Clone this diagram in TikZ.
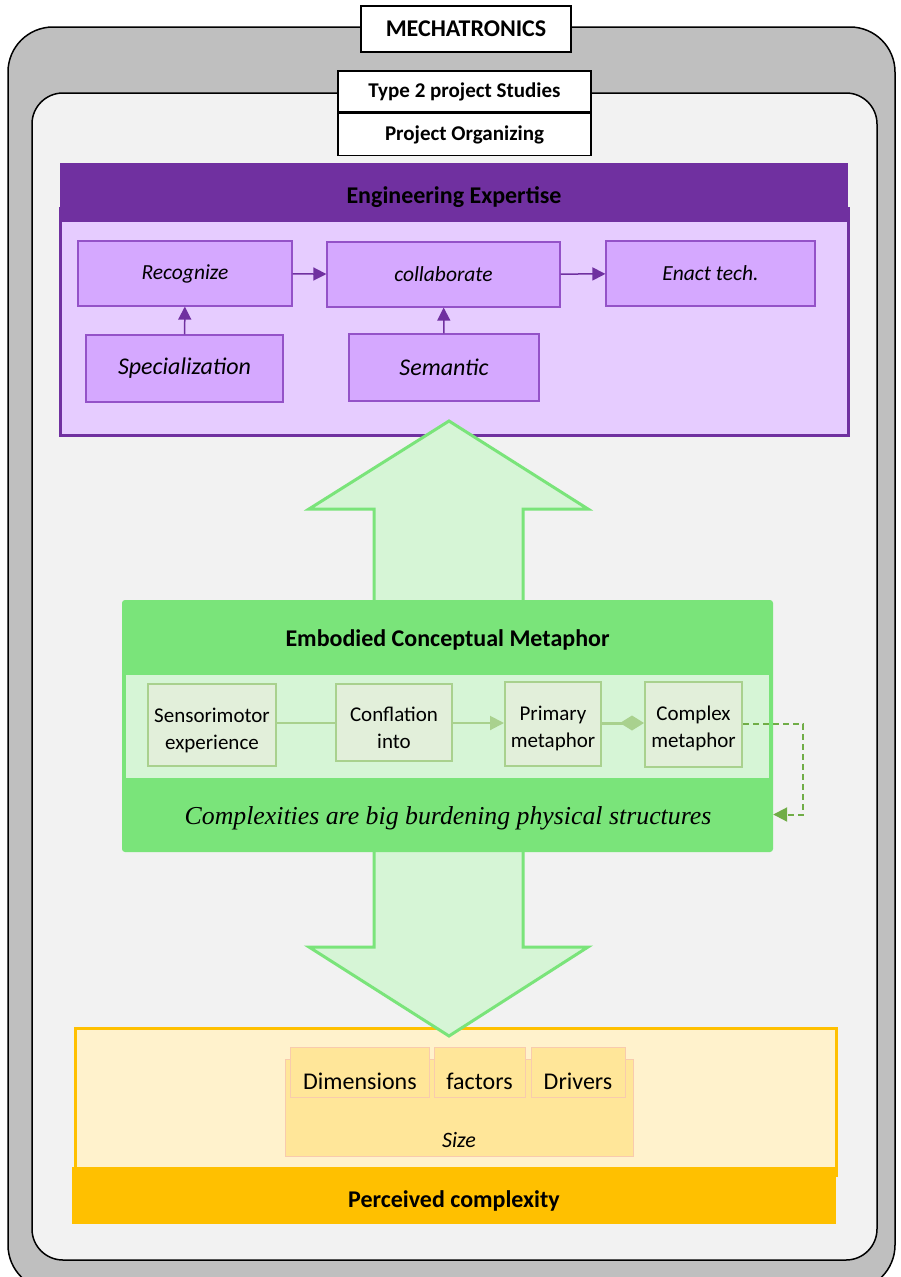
\documentclass[tikz,border=0pt]{standalone}
\usepackage{fontspec}
\setmainfont{Carlito}
\newfontfamily\serifit{Liberation Serif}
\usetikzlibrary{arrows.meta}
\definecolor{outergray}{HTML}{BFBFBF}
\definecolor{innergray}{HTML}{F2F2F2}
\definecolor{pdark}{HTML}{7030A0}
\definecolor{pbody}{HTML}{E6CCFF}
\definecolor{pnode}{HTML}{D5A8FF}
\definecolor{pborder}{HTML}{9452C8}
\definecolor{gmain}{HTML}{7AE47A}
\definecolor{gband}{HTML}{D6F5D6}
\definecolor{gnode}{HTML}{E2EFDA}
\definecolor{gborder}{HTML}{A9D18E}
\definecolor{gdash}{HTML}{70AD47}
\definecolor{ymain}{HTML}{FFC000}
\definecolor{ylight}{HTML}{FFF2CC}
\definecolor{ynode}{HTML}{FFE699}
\definecolor{yborder}{HTML}{F8CBAD}
\tikzset{
  titlebox/.style={draw=black, line width=1.5pt, fill=white, inner sep=0pt, font=\fontsize{21}{24}\selectfont\bfseries},
  pbox/.style={draw=pborder, line width=1.2pt, fill=pnode, inner sep=0pt, font=\fontsize{21.5}{24}\selectfont\itshape},
  gbox/.style={draw=gborder, line width=2pt, fill=gnode, inner sep=0pt},
  gtext/.style={align=center, inner sep=0pt, font=\fontsize{21}{27}\selectfont},
  ybox/.style={draw=yborder, line width=0.8pt, fill=ynode, inner sep=0pt},
  ytext/.style={font=\fontsize{24}{27}\selectfont},
  parrow/.style={draw=pdark, line width=1.5pt, -{Triangle[width=13pt,length=13pt]}},
  bigarrow/.style={draw=gmain, line width=3pt, fill=gband, line join=miter},
  headtext/.style={font=\fontsize{24}{27}\selectfont\bfseries, text=black},
}
\begin{document}
\begin{tikzpicture}[x=1pt,y=-1pt]
\useasboundingbox (0,0) rectangle (901,1277);
% outer frames
\draw[line width=1.5pt, fill=outergray, rounded corners=45pt] (8,27) rectangle (895,1290);
\draw[line width=1.5pt, fill=innergray, rounded corners=31pt] (32,93) rectangle (877,1260);
\node[titlebox, minimum width=210pt, minimum height=46pt, font=\fontsize{24}{27}\selectfont\bfseries] (mech) at (466,29) {MECHATRONICS};
\node[titlebox, minimum width=253pt, minimum height=41pt] (type2) at (464.5,91.5) {Type 2 project Studies};
\node[titlebox, minimum width=253pt, minimum height=42pt, anchor=north] (porg) at (type2.south) {Project Organizing};

% purple section
\node[draw=pdark, line width=3pt, fill=pbody, minimum width=788pt, minimum height=227pt, inner sep=0pt] (pbodyn) at (454,321.5) {};
\node[fill=pdark, minimum width=788pt, minimum height=59pt, inner sep=0pt] (phead) at (454,192.5) {};
\node[headtext] (pheadt) at (454,197) {Engineering Expertise};
\node[pbox, minimum width=214pt, minimum height=65pt] (recog) at (185,273.5) {Recognize};
\node[pbox, minimum width=233pt, minimum height=65pt] (collab) at (443.5,274.5) {collaborate};
\node[pbox, minimum width=209pt, minimum height=65pt] (enact) at (710.5,273.5) {Enact tech.};
\node[pbox, minimum width=197pt, minimum height=67pt, font=\fontsize{24}{27}\selectfont\itshape] (spec) at (184.5,368.5) {Specialization};
\node[pbox, minimum width=190pt, minimum height=67pt, font=\fontsize{24}{27}\selectfont\itshape] (sem) at (444,367.5) {Semantic};
\draw[parrow] (recog) -- (collab);
\draw[parrow] (collab) -- (enact);
\draw[parrow] (spec) -- (recog);
\draw[parrow] (sem) -- (collab);

% up arrow
\draw[bigarrow] (449,421) -- (588,509) -- (523,509) -- (523,602) -- (374,602) -- (374,509) -- (309,509) -- cycle;

% yellow section
\node[draw=ymain, line width=3pt, fill=ylight, minimum width=761pt, minimum height=147pt, inner sep=0pt] (ybody) at (455.5,1101.5) {};
\node[ybox, minimum width=348pt, minimum height=97pt] (size) at (459,1107.5) {};
\node[font=\fontsize{22}{25}\selectfont\itshape, anchor=base] (sizet) at (459,1147) {Size};
\node[ybox, minimum width=139pt, minimum height=50pt] (dim) at (359.5,1072) {};
\node[ybox, minimum width=91pt, minimum height=50pt] (fac) at (479.5,1072) {};
\node[ybox, minimum width=94pt, minimum height=50pt] (drv) at (578,1072) {};
\node[ytext, anchor=base] (dimt) at (360,1089) {Dimensions};
\node[ytext, anchor=base] (fact) at (479.5,1089) {factors};
\node[ytext, anchor=base] (drvt) at (578,1089) {Drivers};
\node[fill=ymain, minimum width=764pt, minimum height=57pt, inner sep=0pt] (perc) at (454,1195.5) {};
\node[headtext, anchor=base] (perct) at (454,1207) {Perceived complexity};

% down arrow
\draw[bigarrow] (374,849) -- (523,849) -- (523,947) -- (588,947) -- (449,1036) -- (309,947) -- (374,947) -- cycle;

% green section
\path[fill=gmain, rounded corners=3pt] (122,600) rectangle (773,852);
\node[fill=gband, minimum width=643pt, minimum height=103pt, inner sep=0pt] (gbandn) at (447.5,726.5) {};
\node[headtext] (ghead) at (447.5,640) {Embodied Conceptual Metaphor};
\node[minimum width=651pt, minimum height=73pt, inner sep=0pt] (lower) at (447.5,814.5) {};
\node[font=\fontsize{25.8}{30}\serifit\itshape] (lowert) at (448,818) {Complexities are big burdening physical structures};
\node[gbox, minimum width=128pt, minimum height=82pt] (senso) at (212,725) {};
\node[gbox, minimum width=116pt, minimum height=77pt] (confl) at (394,722.5) {};
\node[gbox, minimum width=96pt, minimum height=84pt] (prim) at (553,724) {};
\node[gbox, minimum width=97pt, minimum height=85pt] (cplx) at (693.5,724.5) {};
\node[gtext] (sensot) at (212,730) {Sensorimotor\\experience};
\node[gtext] (conflt) at (394,728) {Conflation\\into};
\node[gtext] (primt) at (553,728) {Primary\\metaphor};
\node[gtext] (cplxt) at (693.5,728) {Complex\\metaphor};
\draw[draw=gborder, line width=2pt] (senso.east |- 0,723) -- (confl.west |- 0,723);
\draw[draw=gborder, line width=2pt, -{Triangle[width=14pt,length=14pt]}] (confl.east |- 0,723) -- (prim.west |- 0,723);
\draw[draw=gborder, line width=3pt, -{Diamond[width=15pt,length=24pt]}] (prim.east |- 0,723) -- (cplx.west |- 0,723);
\draw[draw=gdash, line width=2pt, dashed, dash pattern=on 6pt off 4pt, -{Triangle[width=14pt,length=14pt]}] (cplx.east |- 0,724) -- (803,724) |- (lower.east);
\end{tikzpicture}
\end{document}
